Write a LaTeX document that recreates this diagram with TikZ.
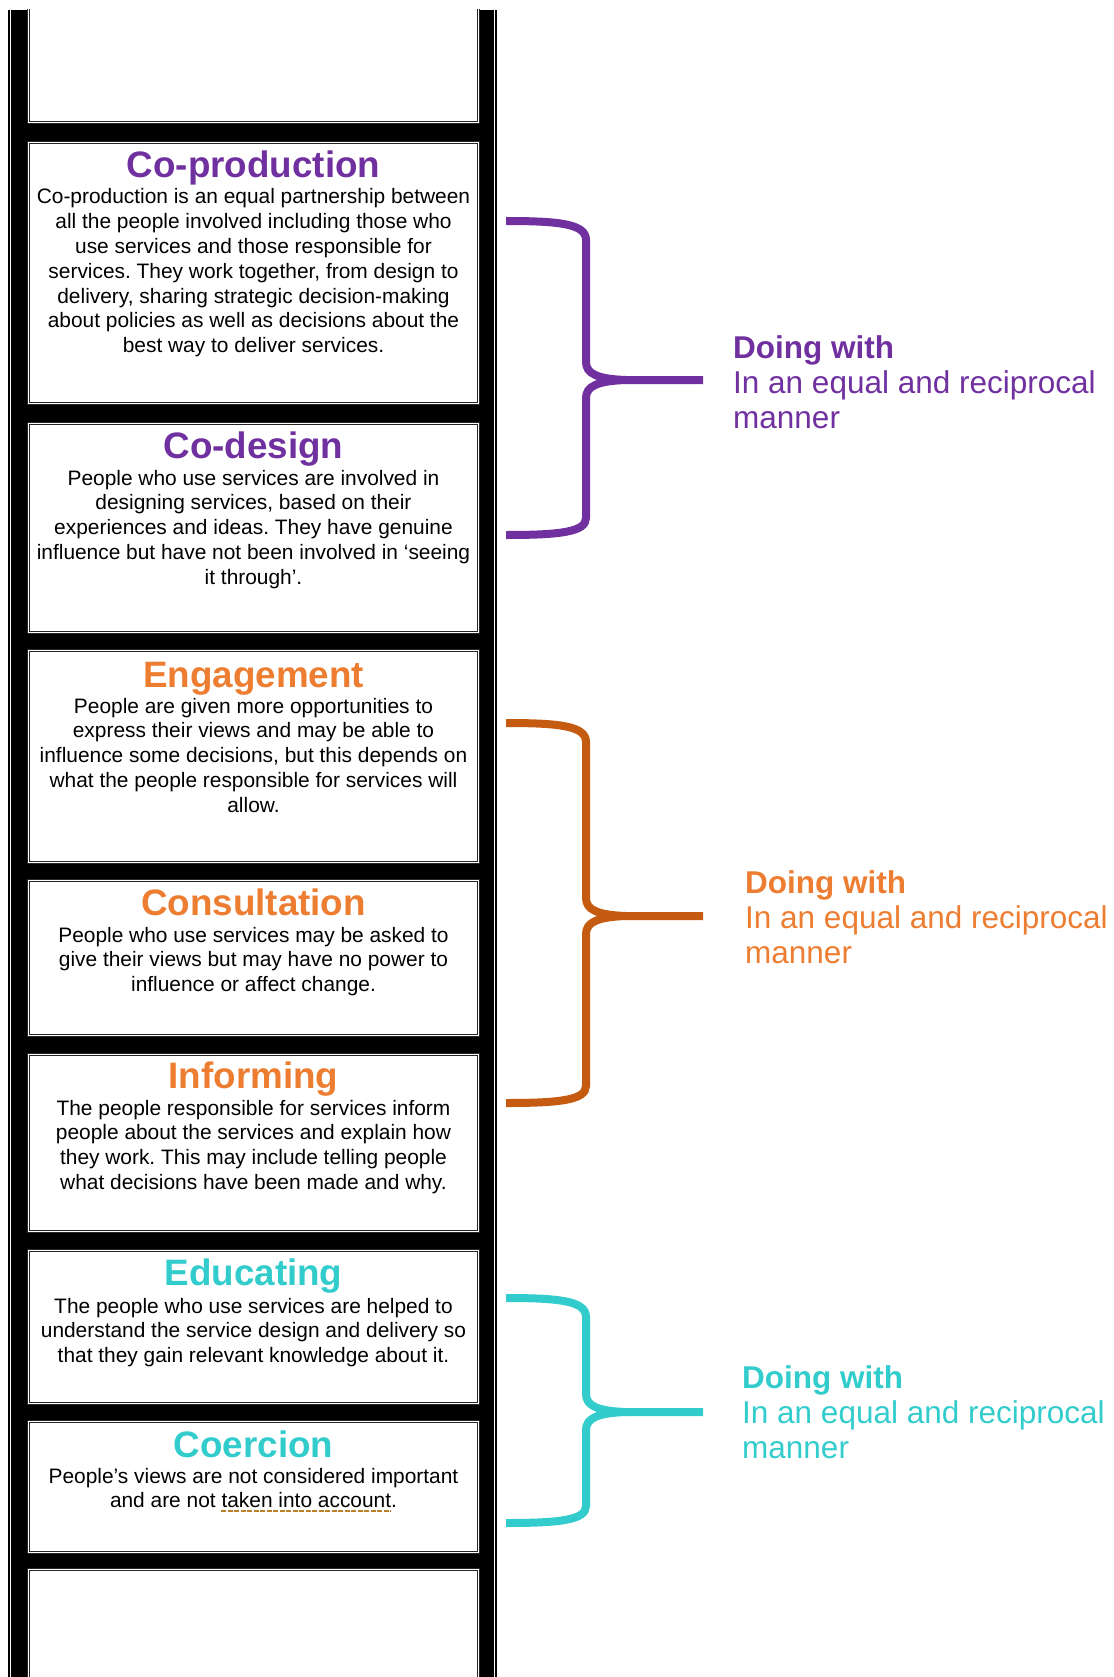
\documentclass[tikz,border=0pt]{standalone}
\usepackage{fontspec}
\setmainfont{Liberation Sans}
\usetikzlibrary{calc}
\definecolor{lvlpurple}{HTML}{7030A0}
\definecolor{lvlorange}{HTML}{ED7D31}
\definecolor{braceorange}{HTML}{C55A11}
\definecolor{lvlteal}{HTML}{33CCCC}
\definecolor{spellbrown}{RGB}{185,130,40}
\frenchspacing

\tikzset{
  lvlbox/.style={draw=black!85, line width=1pt, double=white, double distance=1pt,
    fill=white, minimum width=450pt, inner sep=0pt, anchor=north},
  lvltitle/.style={font=\fontsize{36.8}{40}\selectfont\bfseries, inner sep=0pt, anchor=base},
  lvlbody/.style={font=\fontsize{20.9}{24.8}\selectfont, text=black, inner sep=0pt, anchor=base},
  bracestyle/.style={line width=8pt, line cap=butt, line join=round},
  sidelabel/.style={font=\fontsize{31.5}{35}\selectfont, inner sep=0pt, anchor=base west},
}

% box by outer edges
\newcommand\lvlbox[3]{\node[lvlbox, minimum height={#3-#2-3}] (#1) at (253.5,#2+1.5) {};}
% name, title baseline, body baseline, colour, title, body
\newcommand\lvltext[6]{%
  \node[lvltitle, text=#4] (#1-title) at (253.5,#2) {#5};
  \node[lvlbody] (#1-body) at (253.5,#3) {\parbox[t]{452pt}{\centering\frenchspacing #6}};
}
% name, top, tip, bottom, colour
\newcommand\levelbrace[5]{%
  \coordinate (#1-top) at (506,#2);
  \coordinate (#1-tip) at (703,#3);
  \coordinate (#1-bot) at (506,#4);
  \draw[bracestyle, draw=#5] (#1-top) .. controls (560,#2) and (586,#2+3) .. (586,#2+19)
     -- (586,#3-18) .. controls (586,#3-6) and (598,#3-1) .. (626,#3) -- (#1-tip);
  \draw[bracestyle, draw=#5] (626,#3) .. controls (598,#3+1) and (586,#3+6) .. (586,#3+18)
     -- (586,#4-17) .. controls (586,#4-3) and (560,#4) .. (#1-bot);
}

\begin{document}
\begin{tikzpicture}[x=1pt, y=-1pt]
\useasboundingbox (0,0) rectangle (1113,1677);

% black frame
\fill[black] (8,10) rectangle (497,1677);
\draw[white, line width=0.8pt] (10.5,10) -- (10.5,1677);
\draw[white, line width=0.8pt] (494.5,10) -- (494.5,1677);

% cut-off boxes at top and bottom
\begin{scope}
  \clip (0,10) rectangle (1113,1677);
  \lvlbox{topbox}{4}{124}
  \lvlbox{bottombox}{1567}{1700}
\end{scope}

% level boxes
\lvlbox{coprod}{141}{404}
\lvlbox{codesign}{421}{633}
\lvlbox{engage}{648}{863}
\lvlbox{consult}{878}{1036}
\lvlbox{inform}{1052}{1232}
\lvlbox{educate}{1248}{1404}
\lvlbox{coerce}{1419}{1553}

\lvltext{coprod}{178}{204}{lvlpurple}{Co-production}{Co-production is an equal partnership between\\all the people involved including those who\\use services and those responsible for\\services. They work together, from design to\\delivery, sharing strategic decision-making\\about policies as well as decisions about the\\best way to deliver services.}
\lvltext{codesign}{458}{485}{lvlpurple}{Co-design}{People who use services are involved in\\designing services, based on their\\experiences and ideas. They have genuine\\influence but have not been involved in `seeing\\it through'.}
\lvltext{engage}{687}{713}{lvlorange}{Engagement}{People are given more opportunities to\\express their views and may be able to\\influence some decisions, but this depends on\\what the people responsible for services will\\allow.}
\lvltext{consult}{915}{942}{lvlorange}{Consultation}{People who use services may be asked to\\give their views but may have no power to\\influence or affect change.}
\lvltext{inform}{1088}{1115}{lvlorange}{Informing}{The people responsible for services inform\\people about the services and explain how\\they work. This may include telling people\\what decisions have been made and why.}
\lvltext{educate}{1285}{1313}{lvlteal}{Educating}{The people who use services are helped to\\understand the service design and delivery so\\that they gain relevant knowledge about it.}
\lvltext{coerce}{1457}{1483}{lvlteal}{Coercion}{People's views are not considered important\\and are not taken into account.}

% spell-check underline
\draw[spellbrown, line width=2pt, dash pattern=on 5pt off 1.5pt] (221,1511) -- (391,1511);

% braces
\levelbrace{bpurple}{221}{380}{535}{lvlpurple}
\levelbrace{borange}{723}{916}{1103}{braceorange}
\levelbrace{bteal}{1298}{1412}{1523}{lvlteal}

% side labels
\node[sidelabel, text=lvlpurple] (lblpurple) at (733,358)
  {\parbox[t]{378pt}{\raggedright\textbf{Doing with}\\In an equal and reciprocal\\manner}};
\node[sidelabel, text=lvlorange] (lblorange) at (745,893)
  {\parbox[t]{366pt}{\raggedright\textbf{Doing with}\\In an equal and reciprocal\\manner}};
\node[sidelabel, text=lvlteal] (lblteal) at (742,1388)
  {\parbox[t]{369pt}{\raggedright\textbf{Doing with}\\In an equal and reciprocal\\manner}};
\end{tikzpicture}
\end{document}
